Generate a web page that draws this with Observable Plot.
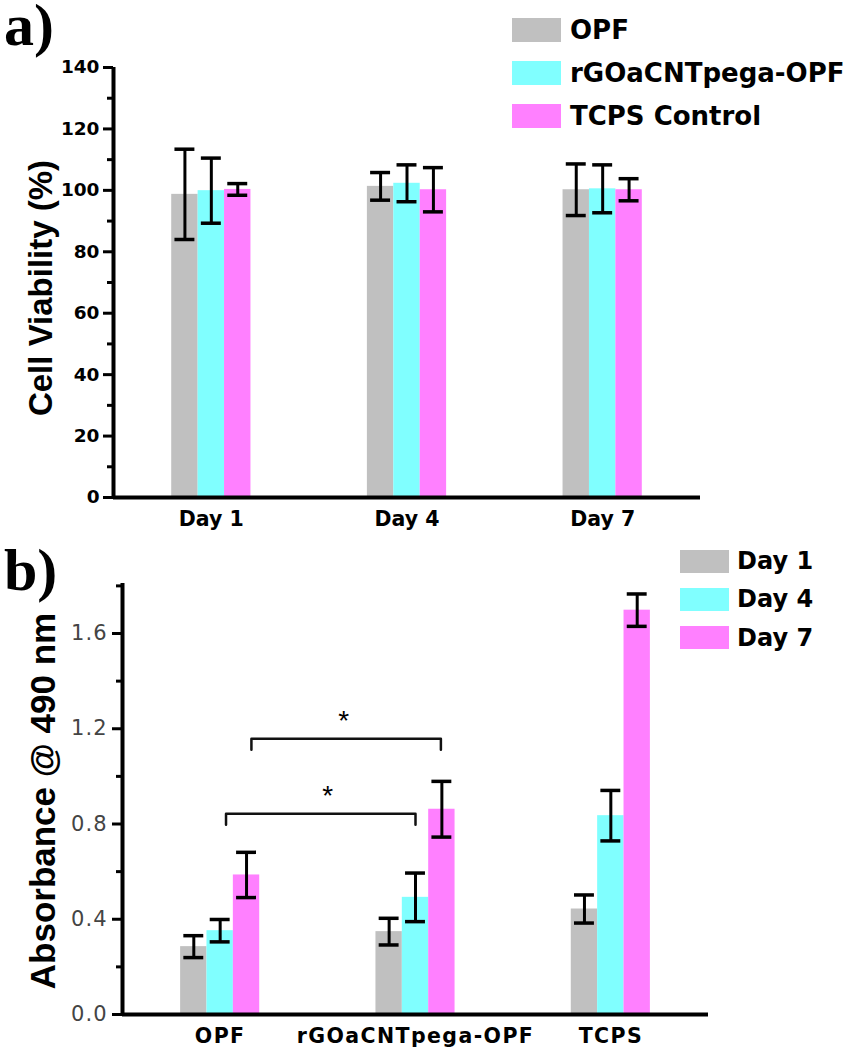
<!DOCTYPE html>
<html>
<head>
<meta charset="utf-8">
<script src="https://cdn.jsdelivr.net/npm/d3@7"></script>
<script src="https://cdn.jsdelivr.net/npm/@observablehq/plot@0.6"></script>
<style>
  html, body { margin: 0; padding: 0; background: #fff; }
  #page { position: relative; width: 853px; height: 1050px; overflow: hidden; background: #fff; }
  #page svg { position: absolute; left: 0; overflow: visible; }
  .panel-tag { position: absolute; left: 4px; font-family: "Liberation Serif", serif; font-weight: bold; font-size: 60px; line-height: 0.825; }
  .legend-row { position: absolute; display: flex; align-items: center; white-space: nowrap; color: #000; }
  .legend-row .sw { flex: none; }
  .ylab { position: absolute; white-space: nowrap; font-family: "Liberation Sans", Arial, sans-serif; font-weight: bold; color: #000; line-height: 1; transform: translate(-50%, -50%) rotate(-90deg); }
  #chartB g[aria-label="y-axis tick label"] { fill: #444; }
</style>
</head>
<body>
<div id="page"></div>
<script>
// ---------- Panel a: cell viability ----------
const daysA = ["Day 1", "Day 4", "Day 7"];
const seriesA = ["OPF", "rGOaCNTpega-OPF", "TCPS Control"];
const opfA = [98.7, 101.3, 100.2];
const opfErrA = [14.7, 4.5, 8.4];
const rgoA = [99.9, 102.3, 100.5];
const rgoErrA = [10.6, 6.0, 7.8];
const tcpsA = [100.3, 100.2, 100.2];
const tcpsErrA = [1.9, 7.2, 3.6];
const yTicksA = [0, 20, 40, 60, 80, 100, 120, 140];
const yMinorA = [10, 30, 50, 70, 90, 110, 130];
const yLabelA = "Cell Viability (%)";

// ---------- Panel b: absorbance ----------
const groupsB = ["OPF", "rGOaCNTpega-OPF", "TCPS"];
const seriesB = ["Day 1", "Day 4", "Day 7"];
const day1B = [0.285, 0.348, 0.443];
const day1ErrB = [0.046, 0.056, 0.059];
const day4B = [0.352, 0.492, 0.835];
const day4ErrB = [0.047, 0.102, 0.106];
const day7B = [0.586, 0.862, 1.698];
const day7ErrB = [0.095, 0.117, 0.068];
const yTicksB = [0.0, 0.4, 0.8, 1.2, 1.6];
const yMinorB = [0.2, 0.6, 1.0, 1.4, 1.8];
const yLabelB = "Absorbance @ 490 nm";
// significance brackets (x in group units, y in absorbance units)
const bracketX1 = [0.03, 0.16];
const bracketX2 = [1.0, 1.13];
const bracketTop = [0.843, 1.158];
const bracketLeg = [0.797, 1.112];
const starX = [0.55, 0.633];
const starY = [0.953, 1.267];
const starText = ["*", "*"];

const colors = ["#c0c0c0", "#80ffff", "#ff80ff"];

const bw = 0.135;   // bar width in group units
const cap = 0.051;  // half error-cap width

function rows(groups, series, values, errs) {
  const out = [];
  groups.forEach((g, gi) => series.forEach((s, si) => {
    out.push({group: g, gi, series: s, si, value: values[si][gi], err: errs[si][gi],
              pos: gi + (si - 1) * bw});
  }));
  return out;
}

const dataA = rows(daysA, seriesA, [opfA, rgoA, tcpsA], [opfErrA, rgoErrA, tcpsErrA]);
const dataB = rows(groupsB, seriesB, [day1B, day4B, day7B], [day1ErrB, day4ErrB, day7ErrB]);

function barMarks(data) {
  return [
    Plot.rect(data, {x1: d => d.pos - bw / 2, x2: d => d.pos + bw / 2, y1: 0, y2: "value", fill: "series"}),
    Plot.ruleX(data, {x: "pos", y1: d => d.value - d.err, y2: d => d.value + d.err, stroke: "#000", strokeWidth: 3}),
    Plot.ruleY(data, {y: d => d.value + d.err, x1: d => d.pos - cap, x2: d => d.pos + cap, stroke: "#000", strokeWidth: 3.5}),
    Plot.ruleY(data, {y: d => d.value - d.err, x1: d => d.pos - cap, x2: d => d.pos + cap, stroke: "#000", strokeWidth: 3.5})
  ];
}

const page = document.getElementById("page");

// ----- chart a -----
const chartA = Plot.plot({
  width: 853, height: 545,
  marginLeft: 113, marginRight: 153, marginTop: 67, marginBottom: 48,
  x: {domain: [-0.5, 2.5], axis: null},
  y: {domain: [0, 140], axis: null},
  color: {domain: seriesA, range: colors},
  marks: [
    ...barMarks(dataA),
    Plot.axisY({ticks: yMinorA, tickSize: 6, tickFormat: () => "", strokeWidth: 3, label: null}),
    Plot.axisY({ticks: yTicksA, tickSize: 10, tickPadding: 4, strokeWidth: 3, label: null,
      fontSize: 18.5, fontWeight: "bold", fontFamily: "DejaVu Sans", fill: "#000"}),
    Plot.axisX({ticks: [0, 1, 2], tickFormat: i => daysA[i], tickSize: 0, tickPadding: 14, label: null,
      fontSize: 20.5, fontWeight: "bold", fontFamily: "DejaVu Sans", fill: "#000"}),
    Plot.ruleY([0], {stroke: "#000", strokeWidth: 4}),
    Plot.ruleX([-0.5], {stroke: "#000", strokeWidth: 4})
  ]
});
chartA.id = "chartA";
chartA.style.top = "0px";
page.appendChild(chartA);

// ----- chart b -----
const bracketLines = [];
bracketX1.forEach((x1, i) => {
  bracketLines.push({k: i, x: x1, y: bracketLeg[i]});
  bracketLines.push({k: i, x: x1, y: bracketTop[i]});
  bracketLines.push({k: i, x: bracketX2[i], y: bracketTop[i]});
  bracketLines.push({k: i, x: bracketX2[i], y: bracketLeg[i]});
});
const stars = starText.map((t, i) => ({t, x: starX[i], y: starY[i]}));

const chartB = Plot.plot({
  width: 853, height: 505,
  marginLeft: 122, marginRight: 145, marginTop: 38, marginBottom: 36,
  x: {domain: [-0.5, 2.5], axis: null},
  y: {domain: [0, 1.81], axis: null},
  color: {domain: seriesB, range: colors},
  marks: [
    ...barMarks(dataB),
    Plot.line(bracketLines, {x: "x", y: "y", z: "k", stroke: "#111", strokeWidth: 2.5, curve: "linear"}),
    Plot.text(stars, {x: "x", y: "y", text: "t", fontSize: 28, fontFamily: "Liberation Sans", dy: 8, fill: "#000"}),
    Plot.axisY({ticks: yMinorB, tickSize: 6, tickFormat: () => "", strokeWidth: 3, label: null}),
    Plot.axisY({ticks: yTicksB, tickSize: 10, tickPadding: 5, strokeWidth: 3, tickFormat: d3.format(".1f"), label: null,
      fontSize: 21, fontFamily: "DejaVu Sans", fill: "#444"}),
    Plot.axisX({ticks: [0, 1, 2], tickFormat: i => groupsB[i], tickSize: 0, tickPadding: 14, label: null,
      fontSize: 20.5, fontWeight: "bold", fontFamily: "DejaVu Sans", fill: "#000"}),
    Plot.ruleY([0], {stroke: "#000", strokeWidth: 4}),
    Plot.ruleX([-0.5], {stroke: "#000", strokeWidth: 4})
  ]
});
chartB.id = "chartB";
chartB.style.top = "545px";
page.appendChild(chartB);
chartB.querySelectorAll('g[aria-label="x-axis tick label"] text').forEach(t => t.setAttribute("letter-spacing", "1.4"));
chartB.querySelectorAll('g[aria-label="y-axis tick label"] text').forEach(t => t.setAttribute("letter-spacing", "1"));

// ----- y-axis titles -----
function ylab(txt, cx, cy, size) {
  const d = document.createElement("div");
  d.className = "ylab";
  d.textContent = txt;
  d.style.left = cx + "px";
  d.style.top = cy + "px";
  d.style.fontSize = size + "px";
  page.appendChild(d);
}
ylab(yLabelA, 40, 288, 33);
ylab(yLabelB, 42, 801, 35);

// ----- panel tags -----
function tag(txt, top) {
  const d = document.createElement("div");
  d.className = "panel-tag";
  d.textContent = txt;
  d.style.top = top + "px";
  page.appendChild(d);
}
tag("a)", 1);
tag("b)", 546);

// ----- legends -----
function legend(labels, left, top, step, swW, swH, textLeft, fontSize) {
  labels.forEach((lab, i) => {
    const row = document.createElement("div");
    row.className = "legend-row";
    row.style.left = left + "px";
    row.style.top = (top + i * step) + "px";
    row.style.height = step + "px";
    const sw = document.createElement("div");
    sw.className = "sw";
    sw.style.width = swW + "px";
    sw.style.height = swH + "px";
    sw.style.background = colors[i];
    const tx = document.createElement("span");
    tx.textContent = lab;
    tx.style.marginLeft = (textLeft - left - swW) + "px";
    tx.style.font = `bold ${fontSize}px "DejaVu Sans", sans-serif`;
    row.appendChild(sw);
    row.appendChild(tx);
    page.appendChild(row);
  });
}
legend(seriesA, 512, 8, 43, 49, 24, 570, 26);
legend(seriesB, 680, 542, 38.3, 49, 23, 737, 24);
</script>
</body>
</html>
